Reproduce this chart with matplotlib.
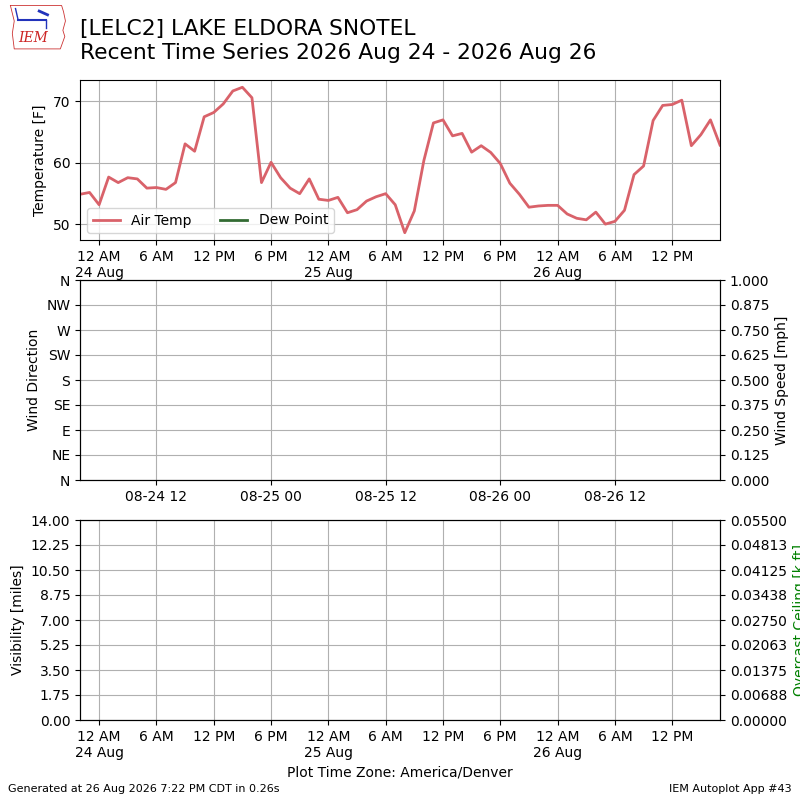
from matplotlib import pyplot as plt
import matplotlib.dates as mdates
import matplotlib.ticker as mticker
import numpy as np
import datetime

# hourly air temperature (F), local time America/Denver, starting 23 Aug 22:00
start = datetime.datetime(2026, 8, 23, 22, 0)
air_temp = [54.9, 55.2, 53.2, 57.7, 56.8, 57.6, 57.4, 55.9, 56.0, 55.7,
            56.8, 63.1, 61.9, 67.5, 68.2, 69.6, 71.7, 72.3, 70.6, 56.8,
            60.1, 57.6, 55.9, 55.0, 57.4, 54.1, 53.9, 54.4, 51.9, 52.4,
            53.8, 54.5, 55.0, 53.2, 48.65, 52.2, 60.4, 66.5, 67.0, 64.4,
            64.8, 61.75, 62.8, 61.7, 59.9, 56.7, 54.9, 52.8, 53.0, 53.1,
            53.1, 51.7, 51.0, 50.75, 52.0, 50.05, 50.5, 52.3, 58.1, 59.5,
            66.9, 69.35, 69.5, 70.2, 62.8, 64.6, 67.0, 62.9]
times = [start + datetime.timedelta(hours=i) for i in range(len(air_temp))]
utc_offset = datetime.timedelta(hours=6)

dir_labels = ['N', 'NE', 'E', 'SE', 'S', 'SW', 'W', 'NW', 'N']
speed_labels = ['0.000', '0.125', '0.250', '0.375', '0.500', '0.625', '0.750', '0.875', '1.000']
vis_labels = ['0.00', '1.75', '3.50', '5.25', '7.00', '8.75', '10.50', '12.25', '14.00']
ceil_labels = ['0.00000', '0.00688', '0.01375', '0.02063', '0.02750', '0.03438',
               '0.04125', '0.04813', '0.05500']

temp_color = '#d9626a'
dwpt_color = '#336b33'


def local_fmt(x, pos=None):
    d = mdates.num2date(x)
    if d.hour == 0:
        return '12 AM\n' + d.strftime('%d %b')
    if d.hour == 12:
        return '12 PM'
    if d.hour < 12:
        return '%d AM' % d.hour
    return '%d PM' % (d.hour - 12)


def local_xaxis(ax):
    ax.xaxis.set_major_locator(mdates.HourLocator(byhour=[0, 6, 12, 18]))
    ax.xaxis.set_major_formatter(mticker.FuncFormatter(local_fmt))
    ax.set_xlim(times[0], times[-1])


fig = plt.figure(figsize=(8, 8), dpi=100)

# title and logo
fig.text(0.1, 0.976, '[LELC2] LAKE ELDORA SNOTEL\nRecent Time Series 2026 Aug 24 - 2026 Aug 26',
         fontsize=15.7, va='top', ha='left', linespacing=1.22)
logo = fig.add_axes([0.005, 0.935, 0.08, 0.062])
logo.set_xlim(0, 10)
logo.set_ylim(0, 8)
logo.axis('off')
logo.plot([1, 9, 9.3, 9.6, 9.2, 9.5, 8.8, 1.6, 1.3, 1.6, 1], [7.5, 7.5, 6.5, 5, 3.5, 2.5, 0.5, 0.5, 3, 5, 7.5],
          color='#cc3333', lw=0.6)
logo.plot([2.2, 6.5], [5.2, 5.2], color='#2233bb', lw=1.5)
logo.plot([2.2, 1.8], [5.2, 7], color='#2233bb', lw=1)
logo.plot([5.5, 6.8], [6.6, 6.0], color='#2233bb', lw=2)
logo.plot([6.5, 6.5], [5.2, 3.8], color='#2233bb', lw=1)
logo.text(4.5, 2.2, 'IEM', color='#cc2222', fontsize=10, family='serif', style='italic', ha='center', va='center')

# temperature panel
ax1 = fig.add_axes([0.1, 0.7, 0.8, 0.2])
ax1.plot(times, air_temp, color=temp_color, lw=2, label='Air Temp')
ax1.plot([], [], color=dwpt_color, lw=2, label='Dew Point')
ax1.set_ylabel('Temperature [F]')
ax1.set_yticks([50, 60, 70])
ax1.grid(True)
ax1.legend(loc='lower left', ncol=2)
local_xaxis(ax1)

# wind panel (UTC labels)
ax2 = fig.add_axes([0.1, 0.4, 0.8, 0.25])
ax2.set_xlim(times[0] + utc_offset, times[-1] + utc_offset)
ax2.xaxis.set_major_locator(mdates.HourLocator(byhour=[0, 12]))
ax2.xaxis.set_major_formatter(mdates.DateFormatter('%m-%d %H'))
ax2.set_ylim(0, 360)
ax2.set_yticks(np.arange(0, 361, 45))
ax2.set_yticklabels(dir_labels)
ax2.set_ylabel('Wind Direction')
ax2.grid(True)
ax2b = ax2.twinx()
ax2b.set_ylim(0, 1)
ax2b.set_yticks(np.linspace(0, 1, 9))
ax2b.set_yticklabels(speed_labels)
ax2b.set_ylabel('Wind Speed [mph]')

# visibility / ceiling panel
ax3 = fig.add_axes([0.1, 0.1, 0.8, 0.25])
local_xaxis(ax3)
ax3.set_ylim(0, 14)
ax3.set_yticks(np.linspace(0, 14, 9))
ax3.set_yticklabels(vis_labels)
ax3.set_ylabel('Visibility [miles]')
ax3.set_xlabel('Plot Time Zone: America/Denver')
ax3.grid(True)
ax3b = ax3.twinx()
ax3b.set_ylim(0, 0.055)
ax3b.set_yticks(np.linspace(0, 0.055, 9))
ax3b.set_yticklabels(ceil_labels)
ax3b.set_ylabel('Overcast Ceiling [k ft]', color='green')

fig.text(0.01, 0.01, 'Generated at 26 Aug 2026 7:22 PM CDT in 0.26s', fontsize=8)
fig.text(0.99, 0.01, 'IEM Autoplot App #43', fontsize=8, ha='right')

fig.savefig('out.png')
